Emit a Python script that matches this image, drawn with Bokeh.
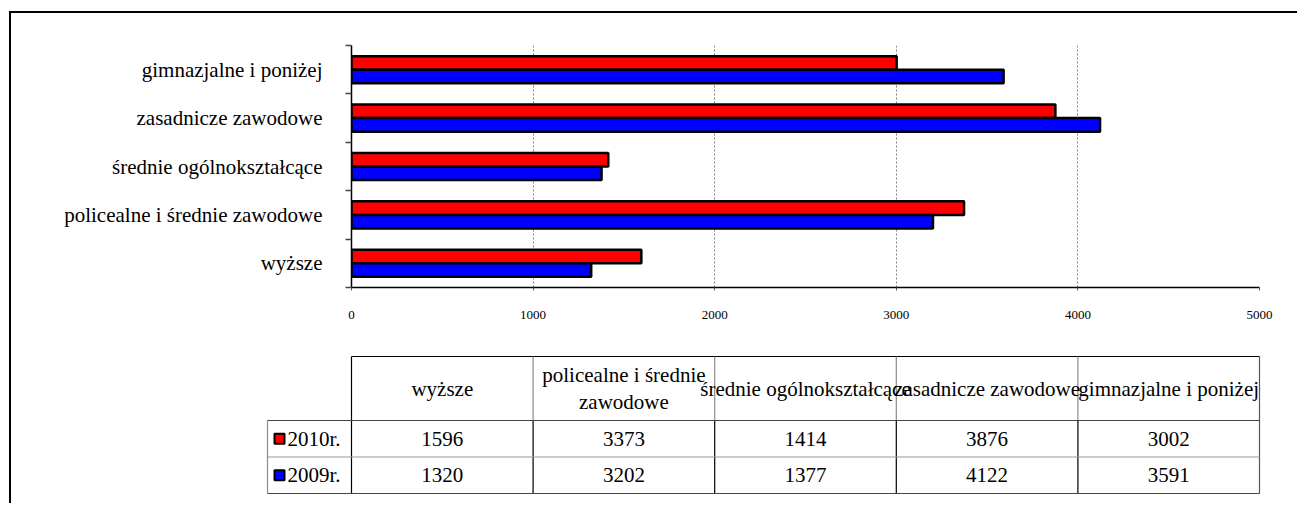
from bokeh.plotting import figure
from bokeh.layouts import column
from bokeh.models import Range1d, FixedTicker, ColumnDataSource
from bokeh.core.properties import value
from bokeh.embed import file_html
from bokeh.resources import INLINE

# ---------------- data ----------------
categories = ["wyższe", "policealne i średnie zawodowe", "średnie ogólnokształcące",
              "zasadnicze zawodowe", "gimnazjalne i poniżej"]
header_labels = ["wyższe", "policealne i średnie\nzawodowe", "średnie ogólnokształcące",
                 "zasadnicze zawodowe", "gimnazjalne i poniżej"]
series_names = ["2010r.", "2009r."]
values_2010 = [1596, 3373, 1414, 3876, 3002]
values_2009 = [1320, 3202, 1377, 4122, 3591]
x_ticks = [0, 1000, 2000, 3000, 4000, 5000]

RED = "#FF0000"
BLUE = "#0000FF"
FONT = "Liberation Serif"
FS = "21px"

# ---------------- chart ----------------
W = 1286
p1 = figure(width=W, height=320, output_backend="svg", toolbar_location=None,
            x_range=Range1d(0, 5000), y_range=Range1d(0, len(categories)),
            min_border_left=340, min_border_right=38, min_border_top=32, min_border_bottom=46)
p1.outline_line_color = None
p1.background_fill_color = "white"
p1.border_fill_color = "white"

centers = [i + 0.5 for i in range(len(categories))]
src = ColumnDataSource(dict(
    y10=[c + 0.14 for c in centers], y09=[c - 0.14 for c in centers],
    v10=values_2010, v09=values_2009))
p1.hbar(y="y10", right="v10", left=0, height=0.28, source=src,
        fill_color=RED, line_color="black", line_width=2.5)
p1.hbar(y="y09", right="v09", left=0, height=0.28, source=src,
        fill_color=BLUE, line_color="black", line_width=2.5)

# x axis
xa = p1.xaxis[0]
xa.ticker = FixedTicker(ticks=x_ticks, minor_ticks=[])
xa.major_tick_out = 3
xa.major_tick_in = 0
xa.axis_line_color = "black"
xa.axis_line_width = 1.5
xa.major_tick_line_color = "#555555"
xa.major_label_text_font = FONT
xa.major_label_text_font_size = "13px"
xa.major_label_text_color = "black"
xa.major_label_standoff = 20

# y axis: labels at centres, ticks at category boundaries
ya = p1.yaxis[0]
ya.ticker = FixedTicker(ticks=centers, minor_ticks=list(range(len(categories) + 1)))
ya.major_label_overrides = {c: cat for c, cat in zip(centers, categories)}
ya.major_tick_out = 0
ya.major_tick_in = 0
ya.minor_tick_out = 6
ya.minor_tick_in = 0
ya.minor_tick_line_color = "#444444"
ya.minor_tick_line_width = 1.5
ya.axis_line_color = "black"
ya.axis_line_width = 1.5
ya.major_label_text_font = FONT
ya.major_label_text_font_size = FS
ya.major_label_text_color = "black"
ya.major_label_standoff = 23

p1.ygrid.visible = False
p1.xgrid.ticker = FixedTicker(ticks=x_ticks[1:])
p1.xgrid.grid_line_color = "#808080"
p1.xgrid.grid_line_dash = "2 2"
p1.xgrid.grid_line_width = 1

# ---------------- data table ----------------
H2 = 170
p2 = figure(width=W, height=H2, output_backend="svg", toolbar_location=None,
            x_range=Range1d(0, W), y_range=Range1d(H2, 0),
            min_border=0, min_border_left=0, min_border_right=0,
            min_border_top=0, min_border_bottom=0)
p2.axis.visible = False
p2.grid.visible = False
p2.outline_line_color = None
p2.border_fill_color = "white"

for pp in (p1, p2):
    try:
        pp.frame_align = False
    except Exception:
        pass

col_left = 340.0
col_w = 908.0 / len(categories)
lab_left = 256.0
head_top, head_bot = 23.0, 87.0
row_h = 36.5
rows_top = [head_bot + i * row_h for i in range(len(series_names))]
table_bot = head_bot + row_h * len(series_names)
col_edges = [col_left + i * col_w for i in range(len(categories) + 1)]
col_mid = [col_left + (i + 0.5) * col_w for i in range(len(categories))]
n_inner = len(col_edges) - 2

# lines
p2.segment(x0=[col_left], y0=[head_top], x1=[col_edges[-1]], y1=[head_top], line_color="black", line_width=1.2)
p2.segment(x0=col_edges[1:-1], y0=[head_top] * n_inner, x1=col_edges[1:-1], y1=[head_bot] * n_inner,
           line_color="#8a8a8a", line_width=1.2)
p2.segment(x0=col_edges[1:-1], y0=[head_bot] * n_inner, x1=col_edges[1:-1], y1=[table_bot] * n_inner,
           line_color="black", line_width=1.2)
p2.segment(x0=[col_left], y0=[head_top], x1=[col_left], y1=[table_bot], line_color="black", line_width=1.2)
p2.segment(x0=[col_edges[-1]], y0=[head_top], x1=[col_edges[-1]], y1=[table_bot], line_color="#555555", line_width=1.2)
p2.segment(x0=[lab_left], y0=[head_bot], x1=[col_edges[-1]], y1=[head_bot], line_color="#444444", line_width=1.2)
p2.segment(x0=[lab_left], y0=[rows_top[1]], x1=[col_edges[-1]], y1=[rows_top[1]], line_color="#999999", line_width=1.2)
p2.segment(x0=[lab_left], y0=[table_bot], x1=[col_edges[-1]], y1=[table_bot], line_color="#444444", line_width=1.2)
p2.segment(x0=[lab_left], y0=[head_bot], x1=[lab_left], y1=[table_bot], line_color="#8a8a8a", line_width=1.2)

# header text
p2.text(x=col_mid, y=[(head_top + head_bot) / 2] * len(categories), text=header_labels,
        text_font=value(FONT), text_font_size=FS, text_align="center",
        text_baseline="middle", text_color="black", text_line_height=1.12)

# row labels with legend keys
row_mid = [t + row_h / 2 for t in rows_top]
p2.scatter(x=[lab_left + 12] * 2, y=row_mid, marker="square", size=10,
           fill_color=[RED, BLUE], line_color="black", line_width=2)
p2.text(x=[lab_left + 20] * 2, y=row_mid, text=series_names,
        text_font=value(FONT), text_font_size=FS, text_align="left",
        text_baseline="middle", text_color="black")

# values
for vals, ym in zip([values_2010, values_2009], row_mid):
    p2.text(x=col_mid, y=[ym] * len(vals), text=[str(v) for v in vals],
            text_font=value(FONT), text_font_size=FS, text_align="center",
            text_baseline="middle", text_color="black")

layout = column(p1, p2, spacing=0,
                styles={"border-left": "2px solid black", "border-top": "2px solid black",
                        "margin-left": "9px", "margin-top": "11px"})

with open("out.html", "w") as f:
    f.write(file_html(layout, INLINE))
